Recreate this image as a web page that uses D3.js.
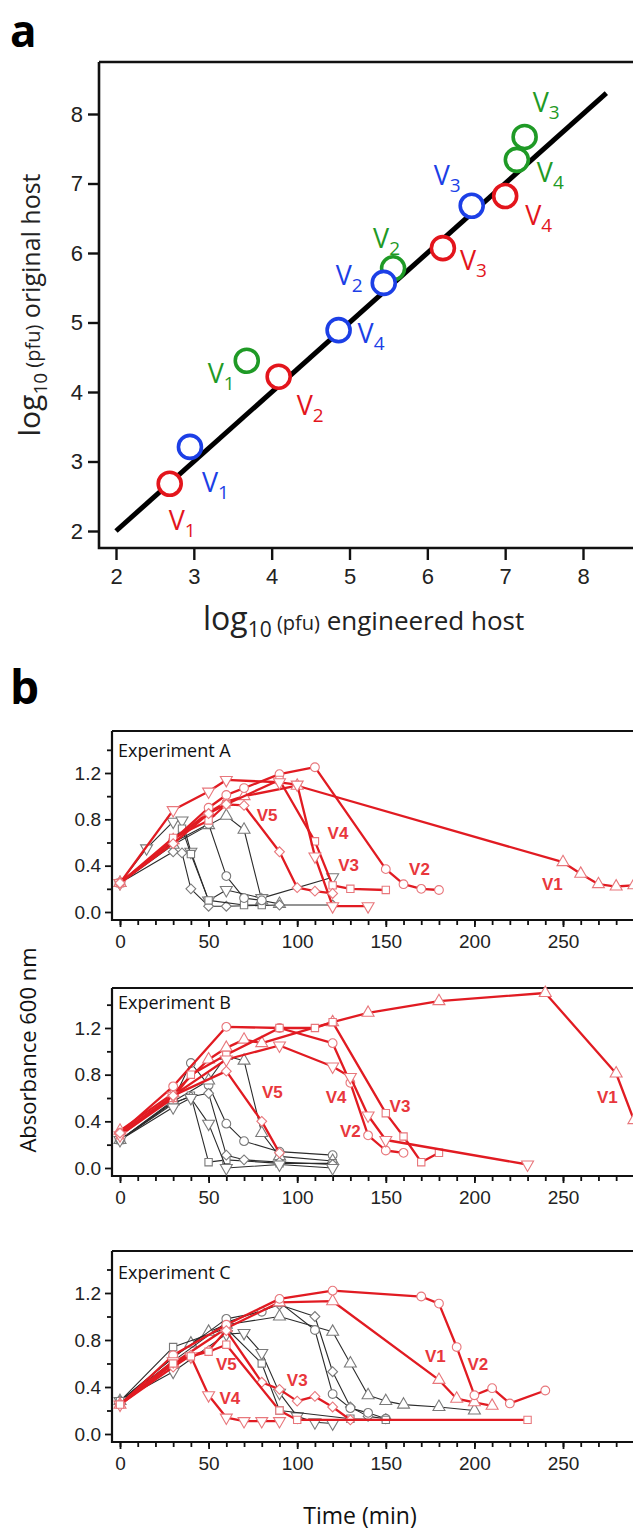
<!DOCTYPE html>
<html>
<head>
<meta charset="utf-8">
<script src="https://cdn.jsdelivr.net/npm/d3@7"></script>
<style>
  body { margin: 0; background: #fff; }
</style>
</head>
<body>
<svg id="chart" width="633" height="1530"></svg>
<script>
// ---------- panel a : log10 pfu, engineered vs original host ----------
const axisTicksA = [2, 3, 4, 5, 6, 7, 8]
const fitLine = [[2, 2], [8.3, 8.3]]

const redNames = ["V1", "V2", "V3", "V4"]
const redX = [2.69, 4.09, 6.20, 7.00]
const redY = [2.68, 4.22, 6.07, 6.82]

const blueNames = ["V1", "V2", "V3", "V4"]
const blueX = [2.95, 5.44, 6.57, 4.86]
const blueY = [3.21, 5.57, 6.68, 4.89]

const greenNames = ["V1", "V2", "V3", "V4"]
const greenX = [3.68, 5.56, 7.25, 7.15]
const greenY = [4.45, 5.78, 7.67, 7.34]

// ---------- panel b : absorbance 600 nm vs time (min) ----------
const timeTicks = [0, 50, 100, 150, 200, 250]
const absTicks = [0, 0.4, 0.8, 1.2]

// Experiment A - red (phages V1..V5)
const A_V1 = [[0, .25], [30, .62], [50, .86], [60, .95], [70, 1.0], [100, 1.09], [250, .43], [260, .33], [270, .24], [280, .22], [290, .23]]
const A_V2 = [[0, .25], [30, .62], [50, .9], [60, 1.01], [70, 1.07], [90, 1.19], [110, 1.25], [150, .37], [160, .24], [170, .2], [180, .19]]
const A_V3 = [[0, .25], [30, .64], [50, .79], [60, .93], [90, 1.14], [110, .61], [120, .23], [130, .2], [150, .19]]
const A_V4 = [[0, .25], [30, .88], [50, 1.04], [60, 1.14], [90, 1.12], [100, 1.1], [110, .48], [120, .05], [140, .05]]
const A_V5 = [[0, .25], [30, .59], [50, .85], [60, .93], [70, .92], [90, .52], [100, .21], [110, .18], [120, .16]]
// Experiment A - black
const A_K1 = [[0, .25], [30, .58], [50, .75], [60, .83], [70, .71], [80, .1], [90, .07]]
const A_K2 = [[0, .25], [15, .55], [30, .78], [35, .79], [40, .52], [50, .1], [60, .19], [80, .12], [120, .3]]
const A_K3 = [[0, .25], [30, .52], [35, .51], [40, .2], [50, .05], [60, .05], [90, .06], [120, .06]]
const A_K4 = [[0, .25], [30, .62], [35, .72], [40, .5], [50, .1], [70, .06], [80, .06]]
const A_K5 = [[0, .25], [30, .6], [50, .76], [60, .31], [70, .12], [80, .1]]

// Experiment B - red
const B_V1 = [[0, .32], [30, .64], [50, .93], [60, 1.03], [70, 1.1], [80, 1.07], [120, 1.25], [140, 1.33], [180, 1.43], [240, 1.5], [280, .81], [290, .41]]
const B_V2 = [[0, .3], [30, .7], [60, 1.21], [90, 1.2], [120, 1.07], [130, .73], [140, .28], [150, .15], [160, .13]]
const B_V3 = [[0, .28], [30, .6], [40, .8], [60, .97], [90, 1.2], [110, 1.2], [120, 1.25], [150, .47], [160, .27], [170, .05], [180, .13]]
const B_V4 = [[0, .28], [30, .62], [60, .93], [90, 1.05], [120, .87], [130, .78], [140, .45], [150, .24], [230, .03]]
const B_V5 = [[0, .3], [30, .62], [60, .83], [80, .4], [90, .13]]
// Experiment B - black
const B_K1 = [[0, .24], [30, .58], [40, .9], [50, .71], [60, .38], [70, .23], [90, .14], [120, .11]]
const B_K2 = [[0, .24], [30, .57], [50, .75], [60, .96], [70, .92], [80, .3], [90, .1], [120, .06]]
const B_K3 = [[0, .24], [30, .55], [40, .62], [50, .05], [60, .07], [90, .04], [120, .04]]
const B_K4 = [[0, .24], [30, .56], [40, .61], [50, .64], [60, .11], [70, .07], [90, .05], [120, .03]]
const B_K5 = [[0, .24], [30, .52], [40, .6], [50, .38], [60, .0], [90, .03], [120, .0]]

// Experiment C - red
const C_V1 = [[0, .25], [30, .6], [60, .9], [90, 1.12], [120, 1.13], [180, .46], [190, .3], [200, .27], [210, .24]]
const C_V2 = [[0, .25], [30, .67], [60, .93], [90, 1.15], [120, 1.22], [170, 1.17], [180, 1.11], [190, .74], [200, .33], [210, .39], [220, .26], [240, .37]]
const C_V3 = [[0, .25], [30, .57], [40, .67], [50, .71], [60, .88], [80, .44], [90, .38], [100, .28], [110, .32], [120, .23], [130, .12]]
const C_V4 = [[0, .25], [30, .62], [40, .66], [50, .33], [60, .14], [70, .11], [80, .11], [90, .11]]
const C_V5 = [[0, .25], [30, .6], [40, .66], [50, .7], [60, .76], [90, .2], [100, .12], [230, .12]]
// Experiment C - black
const C_K1 = [[0, .28], [30, .65], [40, .77], [50, .87], [60, .93], [90, 1.0], [120, .87], [130, .6], [140, .33], [150, .28], [160, .25], [180, .23], [200, .2]]
const C_K2 = [[0, .28], [30, .62], [60, .95], [90, 1.1], [110, 1.0], [120, .53], [130, .23], [140, .15], [150, .13]]
const C_K3 = [[0, .28], [30, .65], [60, .98], [80, 1.04], [90, 1.12], [110, .885], [120, .34], [130, .22], [140, .18], [150, .13]]
const C_K4 = [[0, .28], [30, .53], [60, .85], [70, .86], [80, .69], [90, .35], [100, .15], [110, .1], [120, .09]]
const C_K5 = [[0, .28], [30, .74], [60, .9], [80, .6], [90, .2], [130, .13], [150, .12]]

// label anchors (time, absorbance) for the red series names
const labelsA = [["V5", 83, .84], ["V4", 123, .68], ["V3", 129, .41], ["V2", 169, .37], ["V1", 244, .24]]
const labelsB = [["V5", 86, .65], ["V4", 122, .61], ["V2", 130, .32], ["V3", 158, .53], ["V1", 275, .61]]
const labelsC = [["V5", 60, .6], ["V4", 62, .31], ["V3", 100, .46], ["V1", 178, .66], ["V2", 202, .6]]

const RED = "#e3151c", BLUE = "#1c3fe6", GREEN = "#1f9a26"
const TICK_FONT = "'Liberation Sans', Arial, sans-serif"
const TXT_FONT = "'Open Sans', 'Noto Sans', sans-serif"

const svg = d3.select("#chart")
svg.append("rect").attr("width", 633).attr("height", 1530).attr("fill", "#fff")

// ================= panel a =================
svg.append("text")
    .attr("x", 10).attr("y", 47)
    .attr("font-family", TXT_FONT).attr("font-weight", 700).attr("font-size", 44)
    .text("a")

const xa = d3.scaleLinear().domain([2, 8]).range([116, 583])
const ya = d3.scaleLinear().domain([2, 8]).range([531, 114])

const ga = svg.append("g")
ga.append("path")
    .attr("d", `M99,62 H700 M99,62 V548 H700`)
    .attr("fill", "none").attr("stroke", "#111").attr("stroke-width", 2.6)

ga.append("g")
    .attr("transform", "translate(99,0)")
    .call(d3.axisLeft(ya).tickValues(axisTicksA).tickFormat(d3.format("d")).tickSize(11).tickPadding(5).tickSizeOuter(0))
    .call(g => g.select(".domain").remove())
ga.append("g")
    .attr("transform", "translate(0,548)")
    .call(d3.axisBottom(xa).tickValues(axisTicksA).tickFormat(d3.format("d")).tickSize(12).tickPadding(8).tickSizeOuter(0))
    .call(g => g.select(".domain").remove())
ga.selectAll(".tick line").attr("stroke", "#111").attr("stroke-width", 2.4)
ga.selectAll(".tick text").attr("font-family", TICK_FONT).attr("font-size", 22).attr("fill", "#222")

// axis titles
const xt = ga.append("text").attr("x", 203).attr("y", 630)
    .attr("font-family", TXT_FONT).attr("fill", "#222")
xt.append("tspan").attr("font-size", 32).text("log")
xt.append("tspan").attr("font-size", 21).attr("dy", 7).text("10")
xt.append("tspan").attr("font-size", 20).attr("dy", -7).text(" (pfu)")
xt.append("tspan").attr("font-size", 26).text(" engineered host")

const yt = ga.append("text")
    .attr("transform", "translate(40,305) rotate(-90)")
    .attr("text-anchor", "middle")
    .attr("font-family", TXT_FONT).attr("fill", "#222")
yt.append("tspan").attr("font-size", 30).text("log")
yt.append("tspan").attr("font-size", 19).attr("dy", 7).text("10")
yt.append("tspan").attr("font-size", 20).attr("dy", -7).text(" (pfu)")
yt.append("tspan").attr("font-size", 25).text(" original host")

ga.append("path")
    .datum(fitLine)
    .attr("d", d3.line().x(d => xa(d[0])).y(d => ya(d[1])))
    .attr("stroke", "#000").attr("stroke-width", 5).attr("fill", "none")

// label offsets (px) from each circle
const offRed = [[-1, 46], [18, 38], [17, 22], [20, 29]]
const offBlue = [[12, 45], [-48, 2], [-38, -21], [19, 13]]
const offGreen = [[-39, 22], [-20, -20], [8, -25], [20, 22]]

const drawGroup = (names, xs, ys, color, offs) => {
    const pts = names.map((n, i) => ({ n, x: xs[i], y: ys[i], off: offs[i] }))
    ga.selectAll(null).data(pts).enter()
        .append("circle")
        .attr("cx", d => xa(d.x)).attr("cy", d => ya(d.y)).attr("r", 11.5)
        .attr("fill", "#fff").attr("stroke", color).attr("stroke-width", 3.6)
    const t = ga.selectAll(null).data(pts).enter()
        .append("text")
        .attr("x", d => xa(d.x) + d.off[0]).attr("y", d => ya(d.y) + d.off[1])
        .attr("font-family", TXT_FONT).attr("fill", color)
    t.append("tspan").attr("font-size", 27).text(d => d.n[0])
    t.append("tspan").attr("font-size", 19).attr("dy", 7).text(d => d.n.slice(1))
}
drawGroup(greenNames, greenX, greenY, GREEN, offGreen)
drawGroup(redNames, redX, redY, RED, offRed)
drawGroup(blueNames, blueX, blueY, BLUE, offBlue)

// ================= panel b =================
svg.append("text")
    .attr("x", 10).attr("y", 704)
    .attr("font-family", TXT_FONT).attr("font-weight", 700).attr("font-size", 46)
    .text("b")

const xb = d3.scaleLinear().domain([0, 250]).range([120, 563])

const panels = [
    {
        title: "Experiment A", top: 731, zero: 912, y12: 773, titleY: 757, labels: labelsA,
        red: [[A_V1, "up"], [A_V2, "circle"], [A_V3, "square"], [A_V4, "down"], [A_V5, "diamond"]],
        black: [[A_K1, "up"], [A_K2, "down"], [A_K3, "diamond"], [A_K4, "square"], [A_K5, "circle"]]
    },
    {
        title: "Experiment B", top: 988, zero: 1168, y12: 1028, titleY: 1009, labels: labelsB,
        red: [[B_V1, "up"], [B_V2, "circle"], [B_V3, "square"], [B_V4, "down"], [B_V5, "diamond"]],
        black: [[B_K1, "circle"], [B_K2, "up"], [B_K3, "square"], [B_K4, "diamond"], [B_K5, "down"]]
    },
    {
        title: "Experiment C", top: 1251, zero: 1434, y12: 1293, titleY: 1279, labels: labelsC,
        red: [[C_V1, "up"], [C_V2, "circle"], [C_V3, "diamond"], [C_V4, "down"], [C_V5, "square"]],
        black: [[C_K1, "up"], [C_K2, "diamond"], [C_K3, "circle"], [C_K4, "down"], [C_K5, "square"]]
    }
]

const symbolPath = {
    circle: d3.symbol(d3.symbolCircle, 60)(),
    square: d3.symbol(d3.symbolSquare, 54)(),
    up: d3.symbol(d3.symbolTriangle, 62)(),
    down: d3.symbol(d3.symbolTriangle, 62)(),
    diamond: d3.symbol(d3.symbolSquare, 48)()
}
const symbolRot = { circle: 0, square: 0, up: 0, down: 180, diamond: 45 }

panels.forEach(p => {
    const yb = d3.scaleLinear().domain([0, 1.2]).range([p.zero, p.y12])
    const axisY = p.zero + 8
    const g = svg.append("g")

    // frame
    g.append("path")
        .attr("d", `M112,${p.top} H700 M112,${p.top} V${axisY} H700`)
        .attr("fill", "none").attr("stroke", "#111").attr("stroke-width", 2.2)

    // y axis: major + minor ticks
    g.append("g").attr("transform", "translate(112,0)")
        .call(d3.axisLeft(yb).tickValues(absTicks).tickFormat(d3.format(".1f")).tickSize(7).tickPadding(4).tickSizeOuter(0))
        .call(a => a.select(".domain").remove())
    g.append("g").attr("transform", "translate(112,0)")
        .call(d3.axisLeft(yb).tickValues([0.2, 0.6, 1.0, 1.4]).tickFormat("").tickSize(5).tickSizeOuter(0))
        .call(a => a.select(".domain").remove())

    // x axis: major + minor ticks
    g.append("g").attr("transform", `translate(0,${axisY})`)
        .call(d3.axisBottom(xb).tickValues(timeTicks).tickSize(7).tickPadding(8).tickSizeOuter(0))
        .call(a => a.select(".domain").remove())
    g.append("g").attr("transform", `translate(0,${axisY})`)
        .call(d3.axisBottom(xb).tickValues(d3.range(0, 291, 10)).tickFormat("").tickSize(5).tickSizeOuter(0))
        .call(a => a.select(".domain").remove())
    g.selectAll(".tick line").attr("stroke", "#111").attr("stroke-width", 1.8)
    g.selectAll(".tick text").attr("font-family", TICK_FONT).attr("font-size", 19).attr("fill", "#222")

    g.append("text")
        .attr("x", 118).attr("y", p.titleY)
        .attr("font-family", TXT_FONT).attr("font-size", 18).attr("fill", "#111")
        .text(p.title)

    const line = d3.line().x(d => xb(d[0])).y(d => yb(d[1]))
    const drawSeries = (list, lineColor, lineWidth, markColor) => {
        list.forEach(([data, mark]) => {
            g.append("path").datum(data)
                .attr("d", line)
                .attr("fill", "none").attr("stroke", lineColor).attr("stroke-width", lineWidth)
                .attr("stroke-linejoin", "round")
            g.selectAll(null).data(data).enter()
                .append("path")
                .attr("d", symbolPath[mark])
                .attr("transform", d => `translate(${xb(d[0])},${yb(d[1])}) rotate(${symbolRot[mark]})`)
                .attr("fill", "#fff").attr("stroke", markColor).attr("stroke-width", 1.1)
        })
    }
    drawSeries(p.black, "#2b2b2b", 1.1, "#7a7a7a")
    drawSeries(p.red, "#e11b22", 2.3, "#e8777c")

    g.selectAll(null).data(p.labels).enter()
        .append("text")
        .attr("x", d => xb(d[1])).attr("y", d => yb(d[2]) + 6)
        .attr("text-anchor", "middle")
        .attr("font-family", TICK_FONT).attr("font-weight", 700).attr("font-size", 17)
        .attr("fill", "#e8373c")
        .text(d => d[0])
})

// shared axis titles
svg.append("text")
    .attr("transform", "translate(36,1050) rotate(-90)")
    .attr("text-anchor", "middle")
    .attr("font-family", TXT_FONT).attr("font-size", 22).attr("fill", "#111")
    .text("Absorbance 600 nm")
svg.append("text")
    .attr("x", 360).attr("y", 1524)
    .attr("text-anchor", "middle")
    .attr("font-family", TXT_FONT).attr("font-size", 23).attr("fill", "#111")
    .text("Time (min)")
</script>
</body>
</html>
